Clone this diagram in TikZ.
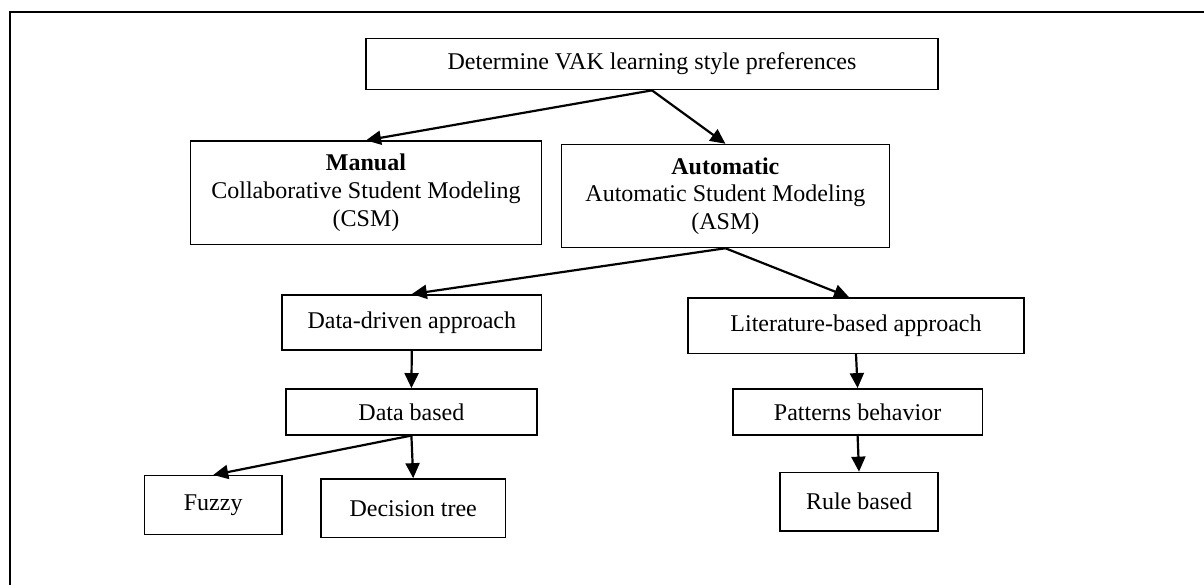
\documentclass[tikz,border=0pt]{standalone}
\usepackage{fontspec}
\setmainfont{Liberation Serif}
\usetikzlibrary{arrows.meta}

\begin{document}
\begin{tikzpicture}[->,>={Triangle[length=7.5pt,width=7pt]},x=1pt,y=-1pt,
                    line width=1.1pt]
  \tikzstyle{box}=[draw,rectangle,line width=0.75pt,align=center,inner sep=2pt,
                   font=\fontsize{12}{13.8}\selectfont]

  \useasboundingbox (0,0) rectangle (602,292.5);
  \draw[-,line width=1pt] (5,292.5) -- (5,6) -- (602,6);

  \node[box,minimum width=286pt,minimum height=25.6pt]   (VAK) at (326,32)     {Determine VAK learning style preferences};
  \node[box,minimum width=175.5pt,minimum height=51.7pt] (CSM) at (183,96.4)   {\textbf{Manual}\\Collaborative Student Modeling\\(CSM)};
  \node[box,minimum width=164pt,minimum height=51.5pt]   (ASM) at (362.7,98)   {\textbf{Automatic}\\Automatic Student Modeling\\(ASM)};
  \node[box,minimum width=129.8pt,minimum height=27.6pt] (DD)  at (205.9,161.2) {Data-driven approach};
  \node[box,minimum width=168pt,minimum height=27.7pt]   (LB)  at (428,162.8)  {Literature-based approach};
  \node[box,minimum width=125.6pt,minimum height=23pt]   (DB)  at (205.7,205.9) {Data based};
  \node[box,minimum width=124.8pt,minimum height=23pt]   (PB)  at (428.8,205.9) {Patterns behavior};
  \node[box,minimum width=68.8pt,minimum height=29.3pt]  (FZ)  at (106.6,252.5) {Fuzzy};
  \node[box,minimum width=92.2pt,minimum height=29.3pt]  (DT)  at (206.6,254.1) {Decision tree};
  \node[box,minimum width=78.8pt,minimum height=29.2pt]  (RB)  at (429.5,250.8) {Rule based};

  \path (VAK.south) edge (CSM.north)
        (VAK.south) edge (ASM.north)
        (ASM.south) edge (DD.north)
        (ASM.south) edge ([xshift=-3.5pt]LB.north)
        (DD.south)  edge (DB.north)
        (LB.south)  edge (PB.north)
        (PB.south)  edge (RB.north)
        (DB.south)  edge (FZ.north)
        (DB.south)  edge (DT.north);
\end{tikzpicture}
\end{document}
